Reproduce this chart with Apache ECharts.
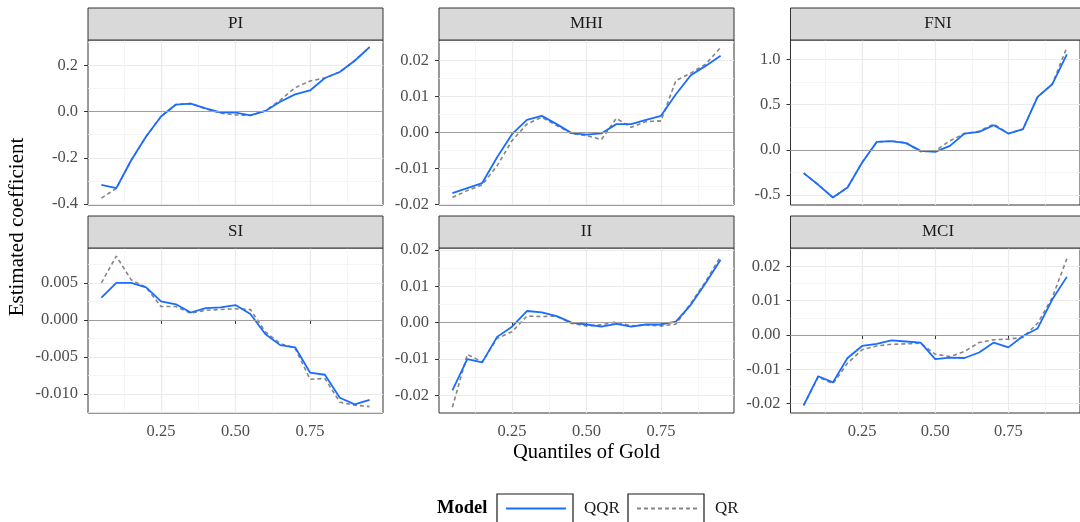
<!DOCTYPE html>
<html>
<head>
<meta charset="utf-8">
<script src="https://cdn.jsdelivr.net/npm/echarts@6/dist/echarts.min.js"></script>
<style>
  html, body { margin: 0; padding: 0; background: #fff; }
  #chart { width: 1080px; height: 522px; }
</style>
</head>
<body>
<div id="chart"></div>
<script>
// quantiles of gold (x axis, shared by all panels)
const QUANTILES = [0.05, 0.10, 0.15, 0.20, 0.25, 0.30, 0.35, 0.40, 0.45, 0.50,
                   0.55, 0.60, 0.65, 0.70, 0.75, 0.80, 0.85, 0.90, 0.95];
const PANEL_NAMES = ['PI', 'MHI', 'FNI', 'SI', 'II', 'MCI'];

// estimated coefficients
const PI_QQR  = [-0.318, -0.332, -0.211, -0.108, -0.021, 0.031, 0.035, 0.014, -0.003, -0.004, -0.016, 0.003, 0.043, 0.075, 0.092, 0.146, 0.172, 0.221, 0.280];
const PI_QR   = [-0.375, -0.333, -0.211, -0.108, -0.021, 0.031, 0.035, 0.012, -0.007, -0.014, -0.016, 0.003, 0.050, 0.104, 0.133, 0.146, 0.172, 0.221, 0.280];
const MHI_QQR = [-0.0169, -0.0155, -0.0141, -0.0069, -0.0005, 0.0035, 0.0046, 0.0023, -0.0002, -0.0006, -0.0003, 0.0023, 0.0023, 0.0035, 0.0046, 0.0106, 0.0159, 0.0185, 0.0213];
const MHI_QR  = [-0.0181, -0.0162, -0.0146, -0.0093, -0.0023, 0.0023, 0.0042, 0.0019, -0.0003, -0.0009, -0.0020, 0.0039, 0.0014, 0.0030, 0.0032, 0.0144, 0.0165, 0.0190, 0.0236];
const FNI_QQR = [-0.257, -0.386, -0.526, -0.415, -0.140, 0.088, 0.096, 0.074, -0.011, -0.022, 0.044, 0.180, 0.199, 0.272, 0.180, 0.228, 0.585, 0.724, 1.055];
const FNI_QR  = [-0.257, -0.386, -0.526, -0.415, -0.140, 0.088, 0.096, 0.080, -0.020, -0.010, 0.100, 0.180, 0.205, 0.285, 0.180, 0.228, 0.585, 0.724, 1.130];
const SI_QQR  = [0.0030, 0.0050, 0.0050, 0.0044, 0.0025, 0.0021, 0.0010, 0.0016, 0.0017, 0.0020, 0.0008, -0.0019, -0.0034, -0.0037, -0.0071, -0.0074, -0.0105, -0.0114, -0.0108];
const SI_QR   = [0.0050, 0.0086, 0.0054, 0.0044, 0.0018, 0.0018, 0.0009, 0.0013, 0.0014, 0.0015, 0.0014, -0.0016, -0.0032, -0.0038, -0.0080, -0.0079, -0.0111, -0.0115, -0.0117];
const II_QQR  = [-0.0186, -0.0100, -0.0109, -0.0039, -0.0011, 0.0032, 0.0028, 0.0018, 0.0000, -0.0005, -0.0011, -0.0003, -0.0011, -0.0005, -0.0005, 0.0003, 0.0049, 0.0109, 0.0173];
const II_QR   = [-0.0232, -0.0087, -0.0108, -0.0043, -0.0025, 0.0018, 0.0017, 0.0018, -0.0002, -0.0009, -0.0006, 0.0002, -0.0009, -0.0006, -0.0009, -0.0004, 0.0053, 0.0113, 0.0182];
const MCI_QQR = [-0.0205, -0.0120, -0.0138, -0.0067, -0.0032, -0.0026, -0.0016, -0.0019, -0.0022, -0.0070, -0.0066, -0.0067, -0.0051, -0.0022, -0.0036, -0.0003, 0.0019, 0.0103, 0.0169];
const MCI_QR  = [-0.0205, -0.0122, -0.0142, -0.0082, -0.0043, -0.0032, -0.0027, -0.0026, -0.0024, -0.0056, -0.0063, -0.0048, -0.0022, -0.0014, -0.0012, -0.0007, 0.0034, 0.0108, 0.0222];

// tick labels
const X_TICKS   = [0.25, 0.50, 0.75];
const PI_TICKS  = [-0.4, -0.2, 0, 0.2];
const MHI_TICKS = [-0.02, -0.01, 0, 0.01, 0.02];
const FNI_TICKS = [-0.5, 0, 0.5, 1.0];
const SI_TICKS  = [-0.01, -0.005, 0, 0.005];
const II_TICKS  = [-0.02, -0.01, 0, 0.01, 0.02];
const MCI_TICKS = [-0.02, -0.01, 0, 0.01, 0.02];
const TICK_DECIMALS = [1, 2, 1, 3, 2, 2];

const QQR_VALUES = [PI_QQR, MHI_QQR, FNI_QQR, SI_QQR, II_QQR, MCI_QQR];
const QR_VALUES = [PI_QR, MHI_QR, FNI_QR, SI_QR, II_QR, MCI_QR];
const Y_TICKS = [PI_TICKS, MHI_TICKS, FNI_TICKS, SI_TICKS, II_TICKS, MCI_TICKS];
// axis limits (ggplot style 5% expansion)
const Y_MIN = [-0.405, -0.0202, -0.609, -0.01256, -0.0248, -0.0227];
const Y_MAX = [0.311, 0.0257, 1.213, 0.0097, 0.0205, 0.0253];
const X_MIN = 0.005, X_MAX = 0.995;

// layout
const FONT = "'Liberation Serif', 'DejaVu Serif', serif";
const COL_LEFT = [88, 439, 790.5];
const ROW_TOP = [40, 248];
const PLOT_W = 295, PLOT_H = 165, STRIP_H = 32;
const BLUE = '#1A6CFF';
const GREY = '#858585';

// midpoints between major ticks, plus one step beyond each end
function minorOf(ticks) {
  const step = ticks[1] - ticks[0];
  const out = [ticks[0] - step / 2];
  ticks.forEach(t => out.push(t + step / 2));
  return out;
}

const chart = echarts.init(document.getElementById('chart'), null, { renderer: 'canvas' });

const grids = [], xAxes = [], yAxes = [], series = [], graphics = [];

PANEL_NAMES.forEach((name, i) => {
  const col = i % 3, row = Math.floor(i / 3);
  const left = COL_LEFT[col], top = ROW_TOP[row];
  const bottomRow = row === 1;

  grids.push({
    left: left, top: top, width: PLOT_W, height: PLOT_H,
    show: true, borderColor: '#333333', borderWidth: 1, backgroundColor: 'transparent'
  });

  // major x axis
  xAxes.push({
    type: 'value', gridIndex: i, min: X_MIN, max: X_MAX,
    axisLine: { show: false },
    axisTick: { show: bottomRow, length: 4, lineStyle: { color: '#333333' }, customValues: X_TICKS },
    axisLabel: {
      show: bottomRow, customValues: X_TICKS, margin: 10,
      color: '#4D4D4D', fontFamily: FONT, fontSize: 16.5,
      formatter: v => v.toFixed(2)
    },
    splitLine: { show: true, lineStyle: { color: '#EBEBEB', width: 1.2 } }
  });
  // major y axis
  yAxes.push({
    type: 'value', gridIndex: i, min: Y_MIN[i], max: Y_MAX[i],
    axisLine: { show: false },
    axisTick: { show: true, length: 4, lineStyle: { color: '#333333' }, customValues: Y_TICKS[i] },
    axisLabel: {
      show: true, customValues: Y_TICKS[i], margin: 10,
      color: '#4D4D4D', fontFamily: FONT, fontSize: 16.5,
      formatter: v => v.toFixed(TICK_DECIMALS[i])
    },
    splitLine: { show: true, lineStyle: { color: '#EBEBEB', width: 1.2 } }
  });

  // strip on top of the panel
  graphics.push({
    type: 'rect', z: 10,
    shape: { x: left, y: top - STRIP_H, width: PLOT_W, height: STRIP_H },
    style: { fill: '#D9D9D9', stroke: '#333333', lineWidth: 1 }
  });
  graphics.push({
    type: 'text', x: left + PLOT_W / 2, y: top - STRIP_H / 2, z: 11,
    style: {
      text: name, fill: '#1A1A1A', font: '17px ' + FONT,
      textAlign: 'center', textVerticalAlign: 'middle'
    }
  });

  // zero reference line
  series.push({
    name: 'zero', type: 'line', xAxisIndex: i, yAxisIndex: i, data: [], z: 1,
    silent: true,
    markLine: {
      silent: true, symbol: 'none', animation: false,
      label: { show: false },
      lineStyle: { color: '#9E9E9E', type: 'solid', width: 1.1 },
      data: [{ yAxis: 0 }]
    }
  });
  series.push({
    name: 'QR', type: 'line', xAxisIndex: i, yAxisIndex: i, z: 3,
    data: QUANTILES.map((q, k) => [q, QR_VALUES[i][k]]),
    showSymbol: false, symbol: 'none',
    lineStyle: { color: GREY, width: 1.6, type: [4, 3] },
    itemStyle: { color: GREY }
  });
  series.push({
    name: 'QQR', type: 'line', xAxisIndex: i, yAxisIndex: i, z: 4,
    data: QUANTILES.map((q, k) => [q, QQR_VALUES[i][k]]),
    showSymbol: false, symbol: 'none',
    lineStyle: { color: BLUE, width: 1.8 },
    itemStyle: { color: BLUE }
  });
});

// minor grid lines on extra hidden axes
PANEL_NAMES.forEach((name, i) => {
  xAxes.push({
    type: 'value', gridIndex: i, min: X_MIN, max: X_MAX,
    axisLine: { show: false }, axisLabel: { show: false },
    axisTick: { show: false, customValues: minorOf(X_TICKS) },
    splitLine: { show: true, lineStyle: { color: '#F2F2F2', width: 0.8 } }
  });
  yAxes.push({
    type: 'value', gridIndex: i, min: Y_MIN[i], max: Y_MAX[i],
    axisLine: { show: false }, axisLabel: { show: false },
    axisTick: { show: false, customValues: minorOf(Y_TICKS[i]) },
    splitLine: { show: true, lineStyle: { color: '#F2F2F2', width: 0.8 } }
  });
});

// axis titles
graphics.push({
  type: 'text', x: 17, y: 227, rotation: Math.PI / 2, z: 11,
  style: { text: 'Estimated coefficient', fill: '#000', font: '21px ' + FONT, textAlign: 'center', textVerticalAlign: 'middle' }
});
graphics.push({
  type: 'text', x: 586.5, y: 453, z: 11,
  style: { text: 'Quantiles of Gold', fill: '#000', font: '20.5px ' + FONT, textAlign: 'center', textVerticalAlign: 'middle' }
});
// legend title and key boxes
graphics.push({
  type: 'text', x: 437, y: 508, z: 11,
  style: { text: 'Model', fill: '#000', font: 'bold 18.5px ' + FONT, textAlign: 'left', textVerticalAlign: 'middle' }
});
[497, 628].forEach(x => graphics.push({
  type: 'rect', z: 11,
  shape: { x: x, y: 494, width: 76, height: 40 },
  style: { fill: 'none', stroke: '#1A1A1A', lineWidth: 1.2 }
}));

const legendText = { color: '#1A1A1A', fontFamily: FONT, fontSize: 17, padding: [0, 0, 0, 13] };
const legendSymbol = { color: 'transparent', borderColor: 'transparent', borderWidth: 0, opacity: 0 };

chart.setOption({
  animation: false,
  backgroundColor: '#ffffff',
  grid: grids,
  xAxis: xAxes,
  yAxis: yAxes,
  series: series,
  graphic: graphics,
  legend: [
    { data: ['QQR'], left: 505, top: 500, padding: 0, itemWidth: 60, itemHeight: 14,
      itemStyle: legendSymbol, textStyle: legendText, selectedMode: false },
    { data: ['QR'], left: 636, top: 500, padding: 0, itemWidth: 60, itemHeight: 14,
      itemStyle: legendSymbol, textStyle: legendText, selectedMode: false }
  ]
});
</script>
</body>
</html>
